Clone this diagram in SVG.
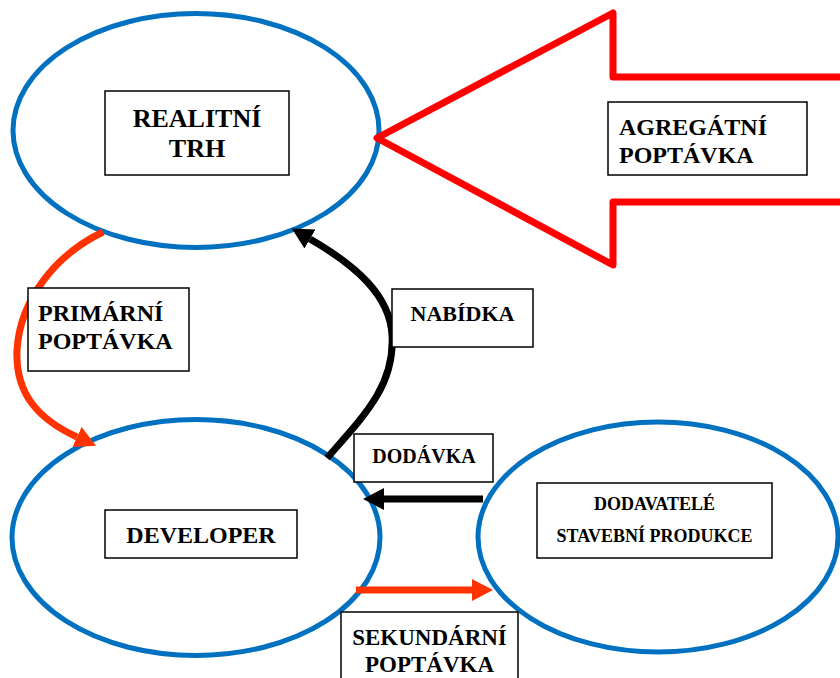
<svg xmlns="http://www.w3.org/2000/svg" width="840" height="678" viewBox="0 0 840 678">
<defs>
<style>
.node{fill:#fff;stroke:#0070C0;stroke-width:5}
.box{fill:#fff;stroke:#000;stroke-width:1.5}
.t{font-family:"Liberation Serif","Times New Roman",serif;font-weight:bold;fill:#000}
.c{text-anchor:middle}
.blk{fill:none;stroke:#000;stroke-width:7}
.org{fill:none;stroke:#FF3300;stroke-width:7}
</style>
<marker id="hb" markerUnits="userSpaceOnUse" markerWidth="21" markerHeight="22" viewBox="0 0 21 22" refX="0" refY="11" orient="auto">
<path d="M0,0 L21,11 L0,22 z" fill="#000"/>
</marker>
<marker id="ho" markerUnits="userSpaceOnUse" markerWidth="21" markerHeight="22" viewBox="0 0 21 22" refX="0" refY="11" orient="auto">
<path d="M0,0 L21,11 L0,22 z" fill="#FF3300"/>
</marker>
</defs>
<rect width="840" height="678" fill="#fff"/>

<g id="realitni-trh">
<ellipse class="node" cx="196" cy="130.5" rx="183" ry="117"/>
<rect class="box" x="105" y="91" width="184" height="84"/>
<text class="t c" x="197" y="127" font-size="26">REALITNÍ</text>
<text class="t c" x="197" y="157" font-size="26">TRH</text>
</g>

<g id="developer">
<ellipse class="node" cx="196" cy="537.5" rx="184" ry="118"/>
<rect class="box" x="105" y="510" width="192" height="48"/>
<text class="t c" x="201" y="543" font-size="24">DEVELOPER</text>
</g>

<g id="dodavatele">
<ellipse class="node" cx="658" cy="537" rx="180" ry="115"/>
<rect class="box" x="537" y="483" width="235" height="75"/>
<text class="t c" x="654.5" y="510" font-size="18">DODAVATELÉ</text>
<text class="t c" x="654.5" y="542" font-size="18">STAVEBNÍ PRODUKCE</text>
</g>

<g id="connectors">
<path class="org" d="M103,232 C55,255 20,300 17,350 C15,395 40,420 77,437" marker-end="url(#ho)"/>
<path class="blk" d="M327,458 C365,415 395,385 392,335 C390,295 355,265 310,239" marker-end="url(#hb)"/>
<path class="blk" d="M483,499 L384,499" marker-end="url(#hb)"/>
<path class="org" d="M356,590 L472,590" marker-end="url(#ho)"/>
</g>

<g id="agregatni-poptavka">
<polygon points="377,138 613,13 613,77 850,77 850,202 613,202 613,265" fill="#fff" stroke="#FF0000" stroke-width="7" stroke-linejoin="round"/>
<rect class="box" x="608" y="102" width="199" height="73"/>
<text class="t" x="619" y="135" font-size="24">AGREGÁTNÍ</text>
<text class="t" x="619" y="163" font-size="24">POPTÁVKA</text>
</g>

<g id="label-primarni">
<rect class="box" x="28" y="288" width="161" height="83"/>
<text class="t" x="38" y="321" font-size="24">PRIMÁRNÍ</text>
<text class="t" x="38" y="349" font-size="24">POPTÁVKA</text>
</g>

<g id="label-nabidka">
<rect class="box" x="392" y="289" width="141" height="58"/>
<text class="t c" x="462.5" y="321" font-size="22">NABÍDKA</text>
</g>

<g id="label-dodavka">
<rect class="box" x="354" y="434" width="139" height="48"/>
<text class="t c" x="424" y="463" font-size="20">DODÁVKA</text>
</g>

<g id="label-sekundarni">
<rect class="box" x="341" y="612" width="177" height="80"/>
<text class="t c" x="429.5" y="645" font-size="23">SEKUNDÁRNÍ</text>
<text class="t c" x="429.5" y="672" font-size="23">POPTÁVKA</text>
</g>
</svg>
